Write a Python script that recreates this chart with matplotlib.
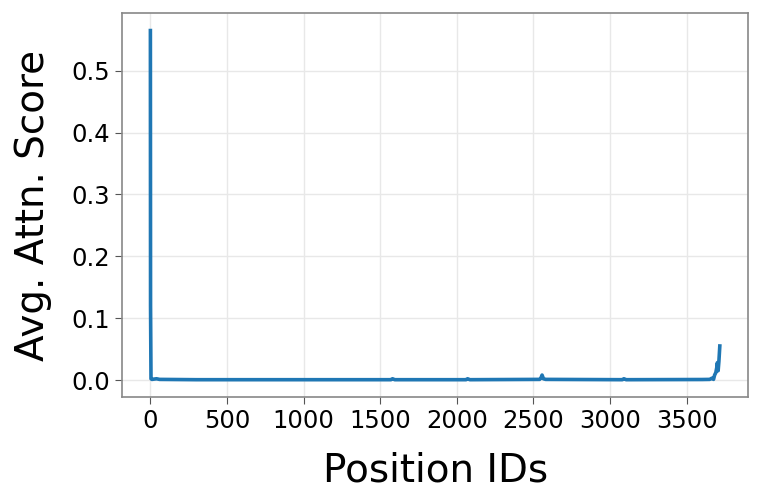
import matplotlib

matplotlib.use("Agg")
import matplotlib.pyplot as plt

# Sparse readout of the averaged attention curve (position id -> score)
position_ids = [0, 1, 4, 10, 40, 60, 300, 1000, 1570, 1580, 1595, 2060, 2070, 2085,
                2540, 2550, 2556, 2565, 2580, 3080, 3090, 3105, 3600, 3650, 3665,
                3675, 3682, 3690, 3696, 3700, 3705, 3710, 3716]
attn_scores = [0.565, 0.12, 0.002, 0.001, 0.002, 0.001, 0.0005, 0.0005, 0.0005, 0.002,
               0.0005, 0.0005, 0.002, 0.0005, 0.001, 0.004, 0.008, 0.002, 0.001,
               0.0005, 0.002, 0.0005, 0.0008, 0.001, 0.003, 0.001, 0.008, 0.012,
               0.02, 0.028, 0.015, 0.03, 0.055]

fig, ax = plt.subplots(figsize=(7.62, 5.04), dpi=100)
ax.plot(position_ids, attn_scores, color="#1f77b4", linewidth=2.6)

ax.set_xticks([0, 500, 1000, 1500, 2000, 2500, 3000, 3500])
ax.set_yticks([0.0, 0.1, 0.2, 0.3, 0.4, 0.5])
ax.grid(True, color="#e8e8e8", linewidth=1)
ax.set_axisbelow(True)
for s in ax.spines.values():
    s.set_color("#888888")
    s.set_linewidth(1.2)
ax.tick_params(labelsize=17.5, color="#555555", length=5)
ax.set_xlabel("Position IDs", fontsize=28, labelpad=13)
ax.set_ylabel("Avg. Attn. Score", fontsize=28, labelpad=14)

plt.subplots_adjust(left=0.16, right=0.982, top=0.974, bottom=0.212)
plt.savefig("out.png", dpi=100)
